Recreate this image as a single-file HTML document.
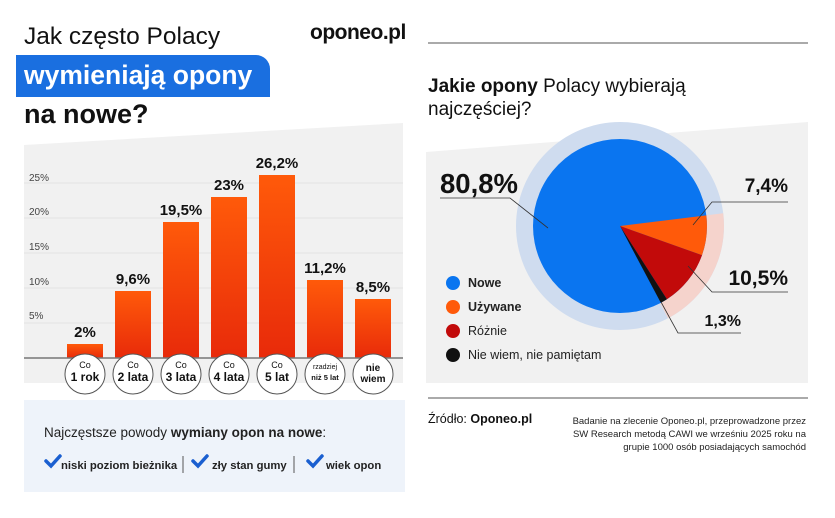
<!DOCTYPE html>
<html><head><meta charset="utf-8"><style>
body{margin:0;width:835px;height:518px;background:#fff;font-family:"Liberation Sans",sans-serif;position:relative;overflow:hidden}
.a{position:absolute;white-space:nowrap}
</style></head><body>
<div class="a" style="left:24px;top:23px;font-size:24.5px;color:#111">Jak często Polacy</div>
<div class="a" style="left:16px;top:55px;width:254px;height:42px;background:#1a6fe0;border-radius:0 14px 0 0"></div>
<div class="a" style="left:24px;top:60px;font-size:26.5px;font-weight:bold;color:#fff">wymieniają opony</div>
<div class="a" style="left:24px;top:99px;font-size:27px;font-weight:bold;color:#111">na nowe?</div>
<div class="a" style="left:310px;top:21px;font-size:21px;font-weight:bold;color:#111;letter-spacing:-0.5px">oponeo.pl</div>

<svg class="a" style="left:0;top:0" width="835" height="518">
<defs>
<linearGradient id="g" x1="0" y1="0" x2="0" y2="1"><stop offset="0" stop-color="#ff5a0a"/><stop offset="1" stop-color="#e82a0a"/></linearGradient>
</defs>
<polygon points="24,145 403,123 403,383 24,383" fill="#f1f1f1"/>
<g stroke="#e2e2e2" stroke-width="1">
<line x1="24" y1="183" x2="403" y2="183"/><line x1="24" y1="218" x2="403" y2="218"/><line x1="24" y1="253" x2="403" y2="253"/><line x1="24" y1="288" x2="403" y2="288"/><line x1="24" y1="323" x2="403" y2="323"/></g>
<g font-size="10" fill="#444"><text x="29" y="181">25%</text><text x="29" y="215">20%</text><text x="29" y="250">15%</text><text x="29" y="285">10%</text><text x="29" y="319">5%</text></g>
<g fill="url(#g)">
<rect x="67" y="344" width="36" height="14"/><rect x="115" y="291" width="36" height="67"/><rect x="163" y="222" width="36" height="136"/><rect x="211" y="197" width="36" height="161"/><rect x="259" y="175" width="36" height="183"/><rect x="307" y="280" width="36" height="78"/><rect x="355" y="299" width="36" height="59"/></g>
<g font-size="15" font-weight="bold" fill="#111" text-anchor="middle">
<text x="85" y="337">2%</text><text x="133" y="284">9,6%</text><text x="181" y="215">19,5%</text><text x="229" y="190">23%</text><text x="277" y="168">26,2%</text><text x="325" y="273">11,2%</text><text x="373" y="292">8,5%</text></g>
<line x1="24" y1="358" x2="403" y2="358" stroke="#777" stroke-width="1.5"/>
<g fill="#fff" stroke="#555" stroke-width="1"><circle cx="85" cy="374" r="20"/><circle cx="133" cy="374" r="20"/><circle cx="181" cy="374" r="20"/><circle cx="229" cy="374" r="20"/><circle cx="277" cy="374" r="20"/><circle cx="325" cy="374" r="20"/><circle cx="373" cy="374" r="20"/></g>
<g text-anchor="middle" fill="#111">
<g font-size="9"><text x="85" y="368">Co</text><text x="133" y="368">Co</text><text x="181" y="368">Co</text><text x="229" y="368">Co</text><text x="277" y="368">Co</text></g>
<g font-size="12" font-weight="bold"><text x="85" y="381">1 rok</text><text x="133" y="381">2 lata</text><text x="181" y="381">3 lata</text><text x="229" y="381">4 lata</text><text x="277" y="381">5 lat</text></g>
<text x="325" y="369" font-size="7">rzadziej</text><text x="325" y="380" font-size="7.5" font-weight="bold">niż 5 lat</text>
<text x="373" y="371" font-size="10" font-weight="bold">nie</text><text x="373" y="382" font-size="10" font-weight="bold">wiem</text></g>
<rect x="24" y="400" width="381" height="92" fill="#eef3fa"/>
<text x="44" y="437" font-size="13.5" fill="#222">Najczęstsze powody <tspan font-weight="bold">wymiany opon na nowe</tspan>:</text>
<g font-size="11.3" font-weight="bold" fill="#222"><text x="61" y="469">niski poziom bieżnika</text><text x="212" y="469">zły stan gumy</text><text x="326" y="469">wiek opon</text></g>
<g fill="none" stroke="#1a5fd0" stroke-width="3.5" stroke-linecap="round"><path d="M46,461 l5,5 l9,-10"/><path d="M193,461 l5,5 l9,-10"/><path d="M308,461 l5,5 l9,-10"/></g>
<g stroke="#555"><line x1="183" y1="456" x2="183" y2="473"/><line x1="294" y1="456" x2="294" y2="473"/></g>

<line x1="428" y1="43" x2="808" y2="43" stroke="#555"/>
<text x="428" y="92" font-size="19" fill="#111"><tspan font-weight="bold">Jakie opony</tspan> Polacy wybierają</text>
<text x="428" y="115" font-size="19" fill="#111">najczęściej?</text>
<polygon points="426,152 808,122 808,383 426,383" fill="#f1f1f1"/>
<line x1="428" y1="398" x2="808" y2="398" stroke="#555"/>
<circle cx="620" cy="226" r="104" fill="#cfdcef"/>
<path d="M620,226 L723.2,213.3 A104,104 0 0,1 668.1,318.2 Z" fill="#f5d3cc"/>
<circle cx="620" cy="226" r="87" fill="#0a75f0"/>
<path d="M620,226 L706.3,215.4 A87,87 0 0,1 702,255.2 Z" fill="#ff5a0a"/>
<path d="M620,226 L702,255.2 A87,87 0 0,1 666.9,299.2 Z" fill="#c20a0a"/>
<path d="M620,226 L666.9,299.2 A87,87 0 0,1 660.8,302.8 Z" fill="#111"/>
<g stroke="#333" fill="none" stroke-width="0.8">
<polyline points="440,198 510,198 548,228"/><polyline points="788,202 712,202 693,225"/><polyline points="788,292 712,292 688,266"/><polyline points="741,333 678,333 661,302"/></g>
<g font-weight="bold" fill="#111"><text x="440" y="193" font-size="27.5">80,8%</text><text x="788" y="192" font-size="19" text-anchor="end">7,4%</text><text x="788" y="285" font-size="21" text-anchor="end">10,5%</text><text x="741" y="326" font-size="16" text-anchor="end">1,3%</text></g>
<circle cx="453" cy="283" r="7" fill="#0a75f0"/><circle cx="453" cy="307" r="7" fill="#ff5a0a"/><circle cx="453" cy="331" r="7" fill="#c20a0a"/><circle cx="453" cy="355" r="7" fill="#111"/>
<g font-size="12.5" fill="#222"><text x="468" y="287" font-weight="bold">Nowe</text><text x="468" y="311" font-weight="bold">Używane</text><text x="468" y="335">Różnie</text><text x="468" y="359">Nie wiem, nie pamiętam</text></g>
<text x="428" y="423" font-size="12.5" fill="#111">Źródło: <tspan font-weight="bold">Oponeo.pl</tspan></text>
<g font-size="9.5" fill="#222" text-anchor="end"><text x="806" y="424">Badanie na zlecenie Oponeo.pl, przeprowadzone przez</text><text x="806" y="437">SW Research metodą CAWI we wrześniu 2025 roku na</text><text x="806" y="450">grupie 1000 osób posiadających samochód</text></g>
</svg>
</body></html>
